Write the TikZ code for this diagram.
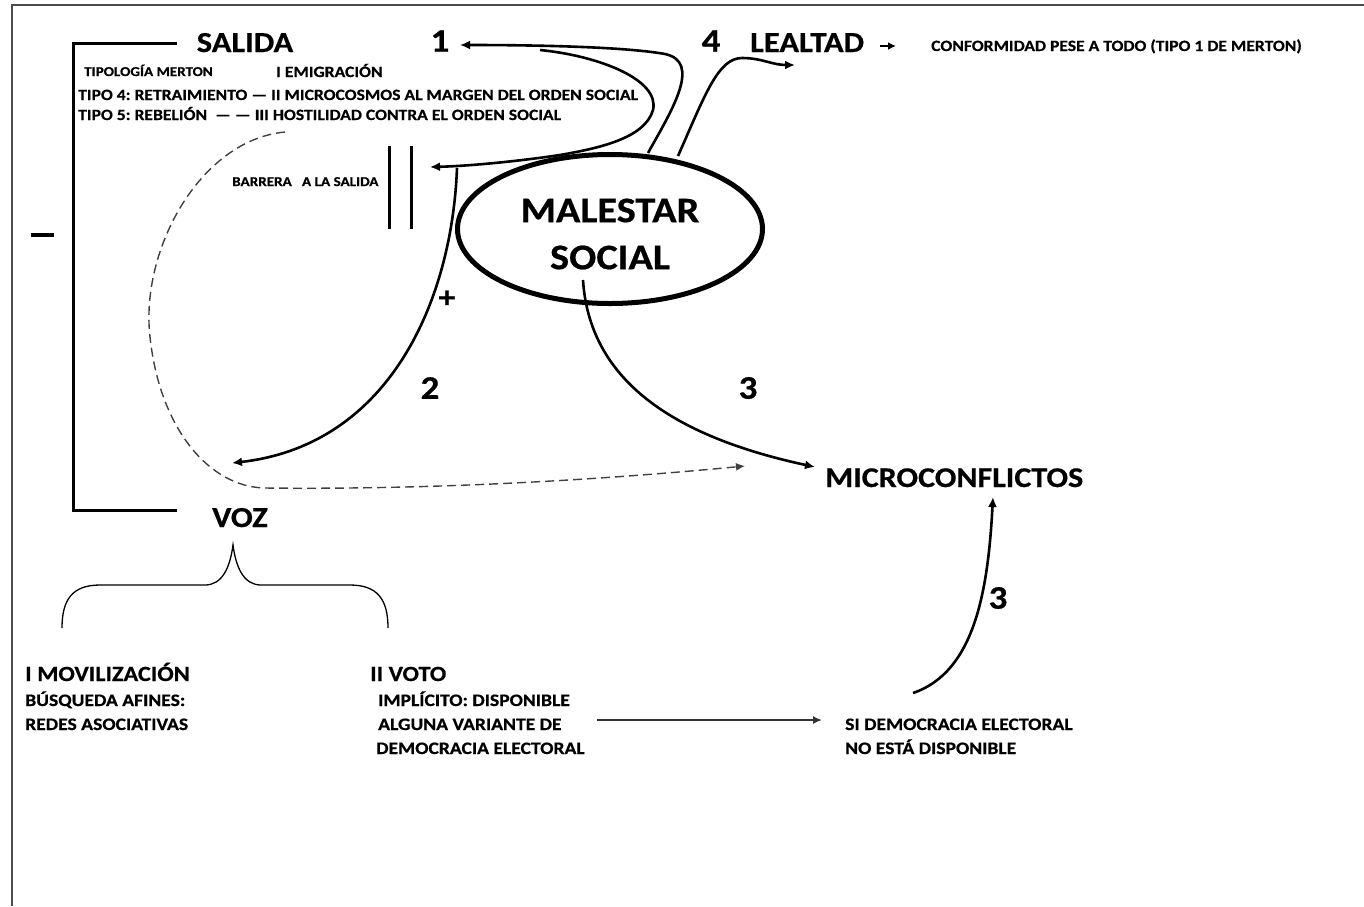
\documentclass[tikz,border=0pt]{standalone}
\usepackage{fontspec}
\setmainfont{Carlito}[FakeStretch=1.12,BoldFeatures={FakeBold=0.6}]
\usetikzlibrary{arrows.meta,shapes.geometric}
\frenchspacing
\begin{document}
\begin{tikzpicture}[x=1pt,y=-1pt,
  txt/.style={inner sep=0pt,anchor=base west,font=\bfseries},
  bigtxt/.style={inner sep=0pt,anchor=base,font=\bfseries\fontsize{29}{32}\selectfont},
  numtxt/.style={inner sep=0pt,anchor=center,font=\bfseries\fontsize{33}{36}\selectfont},
  sz15/.style={font=\bfseries\fontsize{15.7}{18}\selectfont},
  sz12/.style={font=\bfseries\fontsize{13.5}{15}\selectfont},
  sz17/.style={font=\bfseries\fontsize{17.5}{19}\selectfont},
  sz21/.style={font=\bfseries\fontsize{21.7}{24}\selectfont},
  conn/.style={line width=2.6pt,-{Latex[length=10pt,width=9pt]}},
  thinconn/.style={line width=1.6pt,-{Latex[length=9pt,width=8pt]}},
  dashconn/.style={line width=1.4pt,black!75,dash pattern=on 9pt off 5pt,-{Latex[length=9pt,width=8pt]}},
  heavy/.style={line width=3pt}
]
\useasboundingbox (0,0) rectangle (1364,906);
% frame
\draw[line width=2pt,black!70] (12,906) -- (12,5) -- (1364,5);

% main labels
\node[bigtxt] (salida) at (245,52) {SALIDA};
\node[bigtxt] (voz) at (240,527) {VOZ};
\node[txt,font=\bfseries\fontsize{29}{32}\selectfont] (lealtad) at (750,52) {LEALTAD};
\node[txt,font=\bfseries\fontsize{28.6}{32}\selectfont] (micro) at (825,487) {MICROCONFLICTOS};
\node[txt,font=\bfseries\fontsize{15.7}{18}\selectfont] (conform) at (931,51) {CONFORMIDAD PESE A TODO (TIPO 1 DE MERTON)};

% numbers
\node[numtxt] (n1) at (440,41) {1};
\node[numtxt] (n4) at (711,41) {4};
\node[numtxt] (n2) at (430,388) {2};
\node[numtxt] (n3) at (748,388) {3};
\node[numtxt] (n3b) at (998,598) {3};
\node[numtxt,font=\bfseries\fontsize{30}{32}\selectfont] (plus) at (447,299) {+};
\node[inner sep=0pt] (minus) at (42,235) {\rule{23pt}{3.5pt}};

% Merton texts
\node[txt,sz12] (tipol) at (84,76) {TIPOLOGÍA MERTON};
\node[txt,sz15] (emig) at (276,77) {I EMIGRACIÓN};
\node[txt,sz15] (tipo4) at (78,100) {TIPO 4: RETRAIMIENTO — II MICROCOSMOS AL MARGEN DEL ORDEN SOCIAL};
\node[txt,sz15] (tipo5) at (78,120) {TIPO 5: REBELIÓN \ — — III HOSTILIDAD CONTRA EL ORDEN SOCIAL};
\node[txt,sz12] (barrera) at (232,186) {BARRERA \ \ A LA SALIDA};

% ellipse
\node[ellipse,draw,line width=5pt,minimum width=305pt,minimum height=149pt,inner sep=0pt] (mal) at (610,229) {};
\node[inner sep=0pt,align=center,font=\bfseries\fontsize{36}{47}\selectfont] (maltxt) at (610,234) {MALESTAR\\SOCIAL};

% VOZ branches
\node[txt,sz21] (movil) at (25,681) {I MOVILIZACIÓN};
\node[txt,sz17] (busq) at (25,706) {BÚSQUEDA AFINES:};
\node[txt,sz17] (redes) at (25,730) {REDES ASOCIATIVAS};
\node[txt,sz21] (voto) at (370,681) {II VOTO};
\node[txt,sz17] (impl) at (378,706) {IMPLÍCITO: DISPONIBLE};
\node[txt,sz17] (alguna) at (378,730) {ALGUNA VARIANTE DE};
\node[txt,sz17] (democ) at (376,754) {DEMOCRACIA ELECTORAL};
\node[txt,sz17] (si) at (845,730) {SI DEMOCRACIA ELECTORAL};
\node[txt,sz17] (noesta) at (845,754) {NO ESTÁ DISPONIBLE};

% bracket between SALIDA and VOZ
\coordinate (bt) at (177,43);
\coordinate (bb) at (177,510);
\draw[heavy] (bt) -- (73,43) -- (73,510) -- (bb);

% barrier
\coordinate (bar1t) at (389,146); \coordinate (bar1b) at (389,229);
\coordinate (bar2t) at (411,146); \coordinate (bar2b) at (411,229);
\draw[heavy] (bar1t) -- (bar1b);
\draw[heavy] (bar2t) -- (bar2b);

% brace under VOZ
\coordinate (brL) at (62,628);
\coordinate (brT) at (233,545);
\coordinate (brR) at (388,628);
\draw[line width=1.3pt] (brL) .. controls (62,600) and (72,585) .. (100,585) -- (205,585)
   .. controls (222,585) and (230,568) .. (brT)
   .. controls (236,568) and (244,585) .. (261,585) -- (350,585)
   .. controls (378,585) and (388,600) .. (brR);

% connector coordinates
\coordinate (a1s) at (648,153);
\coordinate (a1e) at (460,45);
\coordinate (lbs) at (540,50);
\coordinate (bare) at (430,167);
\coordinate (j2) at (457,168);
\coordinate (voze) at (232,463);
\coordinate (m3s) at (583,280);
\coordinate (m3e) at (815,467);
\coordinate (l4s) at (678,156);
\coordinate (l4e) at (795,65);
\coordinate (ds) at (285,132);
\coordinate (de) at (745,466);
\coordinate (sis) at (913,693);
\coordinate (sie) at (993,497);
\coordinate (hs) at (597,720);
\coordinate (he) at (822,720);
\coordinate (lA) at (880,46);
\coordinate (lB) at (896,46);

% 1: malestar -> salida (1)
\draw[conn] (a1s) .. controls (672,110) and (702,62) .. (665,54) .. controls (620,46) and (520,45) .. (a1e);
% loop back to barrier
\draw[line width=2.6pt,-{Latex[length=10pt,width=9pt]}] (lbs) .. controls (600,56) and (660,80) .. (653,110)
   .. controls (645,138) and (600,148) .. (560,155) .. controls (520,161) and (470,166) .. (bare);
% 2: barrier -> voz
\draw[conn] (j2) .. controls (452,300) and (390,445) .. (voze);
% 3: malestar -> microconflictos
\draw[conn] (m3s) .. controls (590,390) and (690,440) .. (m3e);
% 4: malestar -> lealtad
\draw[conn] (l4s) .. controls (705,95) and (718,58) .. (742,58) .. controls (762,58) and (772,65) .. (l4e);
% lealtad -> conformidad
\draw[line width=1.8pt,-{Latex[length=8pt,width=8pt]}] (lA) -- (lB);
% dashed salida -> microconflictos
\draw[dashconn] (ds) .. controls (200,140) and (140,250) .. (150,337)
   .. controls (160,430) and (210,487) .. (265,488) .. controls (450,490) and (620,478) .. (de);
% voto -> si democracia
\draw[thinconn,black!80] (hs) -- (he);
% si democracia -> microconflictos
\draw[conn] (sis) .. controls (975,672) and (988,590) .. (sie);
\end{tikzpicture}
\end{document}
